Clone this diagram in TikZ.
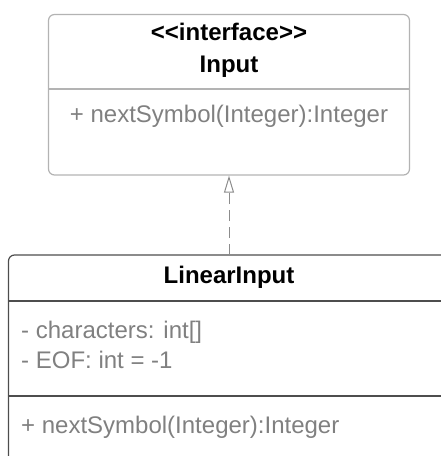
\documentclass[tikz,border=0pt]{standalone}
\usepackage{fontspec}
\setmainfont{Liberation Sans}
\usetikzlibrary{arrows.meta}
\definecolor{ifaceline}{HTML}{B3B3B3}
\definecolor{classline}{HTML}{4D4D4D}
\definecolor{membertext}{HTML}{808080}
\definecolor{linkline}{HTML}{8C8C8C}
\begin{document}
\begin{tikzpicture}[x=1pt,y=-1pt,
  umlfont/.style={font=\fontsize{24}{28}\selectfont},
  classtitle/.style={umlfont,font=\fontsize{24}{28}\selectfont\bfseries,text=black,inner sep=0pt,anchor=base},
  member/.style={umlfont,text=membertext,inner sep=0pt,anchor=base west},
  ifacebox/.style={draw=ifaceline,line width=1.2pt,rounded corners=6pt,inner sep=0pt},
  classbox/.style={draw=classline,line width=1.2pt,rounded corners=6pt,inner sep=0pt},
  realize/.style={draw=linkline,line width=1pt,dash pattern=on 11pt off 6pt,
    -{Triangle[open,length=17pt,width=10pt,line width=1pt]}}]
\useasboundingbox (0,0) rectangle (441,456);
\clip (0,0) rectangle (441,456);

% interface Input
\node[ifacebox,minimum width=361pt,minimum height=160.5pt] (iface) at (229,94.75) {};
\draw[ifaceline,line width=1.2pt] (iface.west |- 0,89) coordinate (idivl) -- (iface.east |- 0,89) coordinate (idivr);
\node[classtitle] (istereo) at (229,40) {{<}{<}interface{>}{>}};
\node[classtitle] (iname) at (229,72) {Input};
\node[member,anchor=base] (iop) at (229,122) {+ nextSymbol(Integer):Integer};

% class LinearInput (runs past the page edge)
\node[classbox,minimum width=470pt,minimum height=240pt] (lin) at (243.5,375) {};
\draw[classline,line width=1.2pt] (lin.west |- 0,301) coordinate (ldiv1l) -- (lin.east |- 0,301) coordinate (ldiv1r);
\draw[classline,line width=1.2pt] (lin.west |- 0,396) coordinate (ldiv2l) -- (lin.east |- 0,396) coordinate (ldiv2r);
\node[classtitle] (lname) at (229,283) {LinearInput};
\node[member] (lattr1) at (21,338) {- characters: int[]};
\node[member] (lattr2) at (21,368) {- EOF: int = -1};
\node[member] (lop) at (21,433) {+ nextSymbol(Integer):Integer};

% realization
\coordinate (impl) at (229,255);
\draw[realize] (impl) -- (iface.south);
\end{tikzpicture}
\end{document}
